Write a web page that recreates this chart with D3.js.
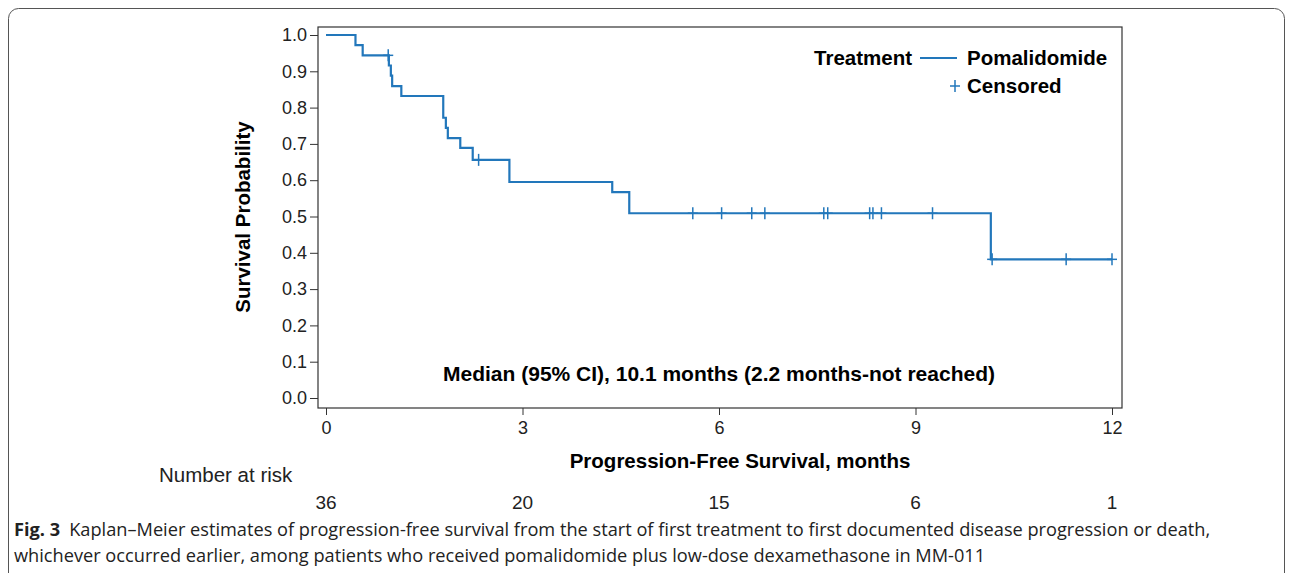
<!DOCTYPE html>
<html><head><meta charset="utf-8">
<script src="https://cdn.jsdelivr.net/npm/d3@7"></script>
<style>body{margin:0;background:#fff}</style>
</head><body>
<svg id="c" width="1292" height="573"></svg>
<script>
// KM step points: time, survival after drop
var stepTimes = [0, 0.45, 0.56, 0.96, 0.99, 1.01, 1.15, 1.79, 1.83, 1.86, 2.05, 2.24, 2.80, 4.37, 4.63, 10.15];
var stepSurv  = [1.0, 0.972, 0.944, 0.916, 0.888, 0.859, 0.832, 0.772, 0.744, 0.716, 0.689, 0.656, 0.595, 0.567, 0.509, 0.382];
var censorTimes = [0.95, 2.33, 5.6, 6.04, 6.5, 6.7, 7.6, 7.66, 8.3, 8.35, 8.48, 9.26, 10.17, 11.3, 12.0];
var endTime = 12.0;
var xTicks = [0, 3, 6, 9, 12];
var yTicks = [0, 0.1, 0.2, 0.3, 0.4, 0.5, 0.6, 0.7, 0.8, 0.9, 1.0];
var atRisk = [36, 20, 15, 6, 1];

var svg = d3.select("#c");
var blue = "#2277bb";
svg.append("rect").attr("x", 8.5).attr("y", 8.5).attr("width", 1276).attr("height", 600)
  .attr("rx", 10).attr("fill", "none").attr("stroke", "#555").attr("stroke-width", 1);

var x = d3.scaleLinear().domain([0, 12]).range([326, 1112]);
var y = d3.scaleLinear().domain([0, 1]).range([398, 35]);

var g = svg.append("g").style("font-family", "Liberation Sans, Arial, sans-serif");
g.append("rect").attr("x", 318).attr("y", 27).attr("width", 804).attr("height", 381)
  .attr("fill", "none").attr("stroke", "#333").attr("stroke-width", 1.2);

var ya = g.append("g").attr("transform", "translate(318,0)")
  .call(d3.axisLeft(y).tickValues(yTicks).tickFormat(d3.format(".1f")).tickSize(8).tickPadding(3));
var xa = g.append("g").attr("transform", "translate(0,408)")
  .call(d3.axisBottom(x).tickValues(xTicks).tickSize(7).tickPadding(6));
[ya, xa].forEach(function(a) {
  a.select(".domain").remove();
  a.selectAll("line").attr("stroke", "#333");
  a.selectAll("text").style("font-size", "18px").attr("fill", "#222");
});

// step path
var pts = [];
stepTimes.forEach(function(t, i) {
  if (i > 0) pts.push([t, stepSurv[i - 1]]);
  pts.push([t, stepSurv[i]]);
});
pts.push([endTime, stepSurv[stepSurv.length - 1]]);
g.append("path").attr("d", d3.line().x(function(d) { return x(d[0]); }).y(function(d) { return y(d[1]); })(pts))
  .attr("fill", "none").attr("stroke", blue).attr("stroke-width", 2.2);

function survAt(t) {
  var s = 1;
  stepTimes.forEach(function(st, i) { if (st <= t) s = stepSurv[i]; });
  return s;
}
censorTimes.forEach(function(t) {
  var cx = x(t), cy = y(survAt(t));
  g.append("line").attr("x1", cx).attr("x2", cx).attr("y1", cy - 6).attr("y2", cy + 6).attr("stroke", blue).attr("stroke-width", 1.5);
  g.append("line").attr("x1", cx - 5).attr("x2", cx + 5).attr("y1", cy).attr("y2", cy).attr("stroke", blue).attr("stroke-width", 1.5);
});

// legend
var big = "20.5px";
g.append("text").attr("x", 912).attr("y", 65).attr("text-anchor", "end").style("font-size", big).style("font-weight", "bold").text("Treatment");
g.append("line").attr("x1", 920).attr("x2", 957).attr("y1", 58).attr("y2", 58).attr("stroke", blue).attr("stroke-width", 2.2);
g.append("text").attr("x", 967).attr("y", 65).style("font-size", big).style("font-weight", "bold").text("Pomalidomide");
g.append("line").attr("x1", 955).attr("x2", 955).attr("y1", 80).attr("y2", 92).attr("stroke", blue).attr("stroke-width", 1.5);
g.append("line").attr("x1", 950).attr("x2", 960).attr("y1", 86).attr("y2", 86).attr("stroke", blue).attr("stroke-width", 1.5);
g.append("text").attr("x", 967).attr("y", 93).style("font-size", big).style("font-weight", "bold").text("Censored");

g.append("text").attr("x", 719).attr("y", 381).attr("text-anchor", "middle").style("font-size", "21px").style("font-weight", "bold")
  .text("Median (95% CI), 10.1 months (2.2 months-not reached)");
g.append("text").attr("transform", "translate(250,217) rotate(-90)").attr("text-anchor", "middle")
  .style("font-size", big).style("font-weight", "bold").text("Survival Probability");
g.append("text").attr("x", 740).attr("y", 468).attr("text-anchor", "middle").style("font-size", big).style("font-weight", "bold")
  .text("Progression-Free Survival, months");
g.append("text").attr("x", 159).attr("y", 482).style("font-size", "20.5px").attr("fill", "#222").text("Number at risk");
xTicks.forEach(function(t, i) {
  g.append("text").attr("x", x(t)).attr("y", 509).attr("text-anchor", "middle").style("font-size", "19px").attr("fill", "#222").text(atRisk[i]);
});

var cap = svg.append("g").style("font-family", "Open Sans, sans-serif").style("font-size", "18.2px").attr("fill", "#222");
var t1 = cap.append("text").attr("x", 14).attr("y", 536);
t1.append("tspan").style("font-weight", "bold").text("Fig. 3");
t1.append("tspan").text("\u2002Kaplan\u2013Meier estimates of progression-free survival from the start of first treatment to first documented disease progression or death,");
cap.append("text").attr("x", 14).attr("y", 562).text("whichever occurred earlier, among patients who received pomalidomide plus low-dose dexamethasone in MM-011");
</script>
</body></html>
